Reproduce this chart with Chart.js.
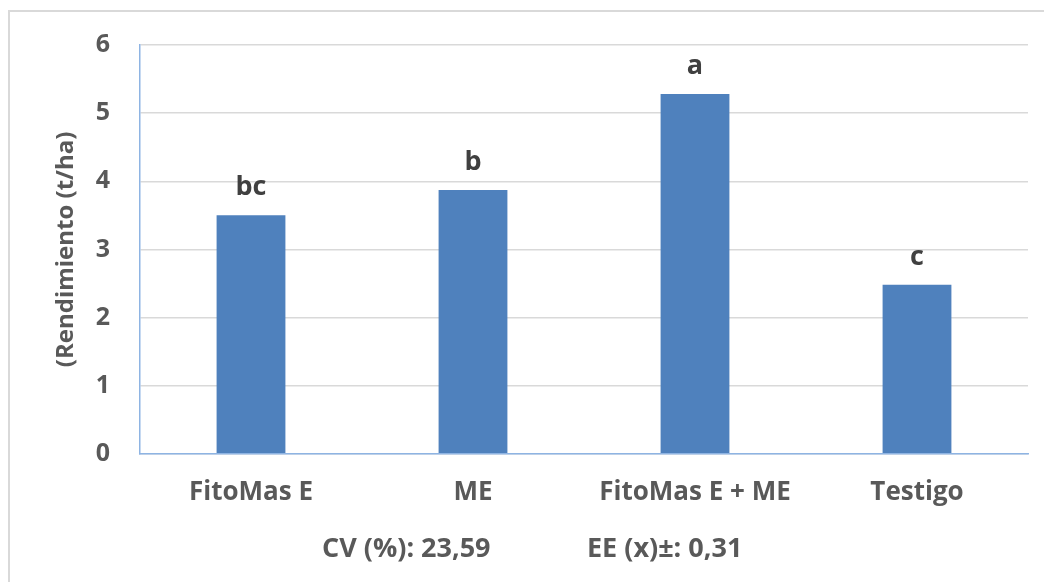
<!DOCTYPE html>
<html>
<head>
<meta charset="utf-8">
<script src="https://cdn.jsdelivr.net/npm/chart.js@4"></script>
<style>
  html, body { margin: 0; padding: 0; background: #fff; }
  #wrap { width: 1044px; height: 582px; position: relative; }
</style>
</head>
<body>
<div id="wrap"><canvas id="bpChart" width="1044" height="582"></canvas></div>
<script>
const categories = ['FitoMas E', 'ME', 'FitoMas E + ME', 'Testigo'];
const rendimiento = [3.5, 3.87, 5.28, 2.48];
const letters = ['bc', 'b', 'a', 'c'];
const yTicks = [0, 1, 2, 3, 4, 5, 6];
const statsText = ['CV (%): 23,59', 'EE (x)±: 0,31'];

const textColor = '#595959';
const fontFamily = '"Open Sans", "Liberation Sans", sans-serif';

// grey frame around the whole chart
const framePlugin = {
  id: 'frame',
  beforeDraw(chart) {
    const ctx = chart.ctx;
    ctx.save();
    ctx.fillStyle = '#fff';
    ctx.fillRect(0, 0, chart.width, chart.height);
    ctx.strokeStyle = '#D9D9D9';
    ctx.lineWidth = 2;
    ctx.strokeRect(9, 11, chart.width + 10, chart.height + 10);
    ctx.restore();
  }
};

// letters over bars + stats line under the axis
const labelPlugin = {
  id: 'letters',
  afterDatasetsDraw(chart) {
    const ctx = chart.ctx;
    const meta = chart.getDatasetMeta(0);
    ctx.save();
    ctx.fillStyle = '#404040';
    ctx.font = 'bold 27px ' + fontFamily;
    ctx.textAlign = 'center';
    ctx.textBaseline = 'alphabetic';
    meta.data.forEach((bar, i) => {
      ctx.fillText(letters[i], bar.x, bar.y - 20);
    });
    ctx.fillStyle = textColor;
    ctx.font = 'bold 27px ' + fontFamily;
    ctx.textAlign = 'left';
    ctx.fillText(statsText[0], 322, 557);
    ctx.fillText(statsText[1], 587, 557);
    ctx.restore();
  }
};

const ctx = document.getElementById('bpChart').getContext('2d');
new Chart(ctx, {
  type: 'bar',
  data: {
    labels: categories,
    datasets: [{
      data: rendimiento,
      backgroundColor: '#4F81BD',
      categoryPercentage: 1,
      barPercentage: 0.31
    }]
  },
  options: {
    responsive: false,
    animation: false,
    layout: { padding: { left: 52, right: 16, top: 27, bottom: 51 } },
    plugins: { legend: { display: false }, tooltip: { enabled: false } },
    scales: {
      x: {
        grid: { display: false, drawTicks: false },
        border: { color: '#8EB4E3', width: 1.5 },
        ticks: {
          color: textColor,
          padding: 23,
          font: { family: fontFamily, size: 26, weight: 'bold' }
        }
      },
      y: {
        min: 0,
        max: 6,
        afterBuildTicks(axis) { axis.ticks = yTicks.map(v => ({ value: v })); },
        afterFit(axis) { axis.width = 88; },
        grid: { color: '#D9D9D9', lineWidth: 1.5, drawTicks: false },
        border: { color: '#8EB4E3', width: 1.5 },
        ticks: {
          color: textColor,
          padding: 30,
          font: { family: fontFamily, size: 25, weight: 'bold' }
        },
        title: {
          display: true,
          text: '(Rendimiento (t/ha)',
          color: textColor,
          padding: { top: 0, bottom: 0 },
          font: { family: fontFamily, size: 24, weight: 'bold' }
        }
      }
    }
  },
  plugins: [framePlugin, labelPlugin]
});
</script>
</body>
</html>
